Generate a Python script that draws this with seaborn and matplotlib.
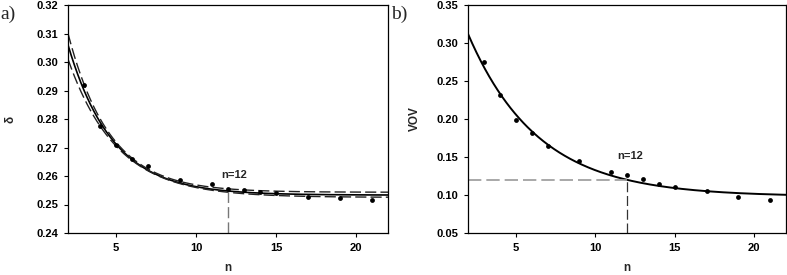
import numpy as np
import pandas as pd
import matplotlib
matplotlib.use("Agg")
import matplotlib.pyplot as plt
from matplotlib import font_manager as fm
import seaborn as sns

# ---- data ----
n_pts = [3, 4, 5, 6, 7, 9, 11, 12, 13, 14, 15, 17, 19, 21]
delta_pts = [0.2920, 0.2776, 0.2710, 0.2659, 0.2634, 0.2587, 0.2573, 0.2555,
             0.2552, 0.2543, 0.2540, 0.2526, 0.2523, 0.2516]
vov_pts = [0.275, 0.231, 0.199, 0.181, 0.165, 0.145, 0.130, 0.126,
           0.1205, 0.1144, 0.111, 0.105, 0.098, 0.093]

# fitted exponential-decay curves: y = c + a*exp(-b*(n-2))
delta_fit = dict(c=0.2533, a=0.0527, b=0.36)
delta_upper = dict(c=0.2543, a=0.0557, b=0.384)
delta_lower = dict(c=0.2525, a=0.0485, b=0.330)
vov_fit = dict(c=0.098, a=0.214, b=0.2275)

n_cut = 12
vov_cut = 0.120
delta_cut = 0.2547

x_ticks = [5, 10, 15, 20]
delta_ticks = [0.24, 0.25, 0.26, 0.27, 0.28, 0.29, 0.30, 0.31, 0.32]
vov_ticks = [0.05, 0.10, 0.15, 0.20, 0.25, 0.30, 0.35]


def curve(p, n):
    return p["c"] + p["a"] * np.exp(-p["b"] * (n - 2))


sns.set_style("ticks")
plt.rcParams["font.family"] = ["Liberation Sans", "DejaVu Sans"]

bold_path = fm.findfont(fm.FontProperties(family="Liberation Sans", weight="bold"))
fp_tick = fm.FontProperties(fname=bold_path, size=8)
fp_lab = fm.FontProperties(fname=bold_path, size=8.5)
fp_ann = fm.FontProperties(fname=bold_path, size=8)
fp_panel = fm.FontProperties(family="Liberation Serif", size=14)

fig = plt.figure(figsize=(7.87, 2.75), dpi=100)
axA = fig.add_axes([68 / 787, 42 / 275, 320 / 787, 228 / 275])
axB = fig.add_axes([468 / 787, 42 / 275, 318 / 787, 228 / 275])

ngrid = np.linspace(2, 22, 300)
dfp = pd.DataFrame({"n": n_pts, "delta": delta_pts, "vov": vov_pts})

# ---- panel a ----
sns.lineplot(x=ngrid, y=curve(delta_fit, ngrid), ax=axA, color="black", lw=1.2)
for p in (delta_upper, delta_lower):
    sns.lineplot(x=ngrid, y=curve(p, ngrid), ax=axA, color="#222222", lw=1.0,
                 linestyle=(0, (8, 3)))
axA.plot([n_cut, n_cut], [0.24, delta_cut], color="#777777", lw=1.0,
         linestyle=(0, (8, 3)))
sns.scatterplot(data=dfp, x="n", y="delta", ax=axA, color="black", s=12,
                edgecolor="black", linewidth=0, zorder=5)
axA.text(12.4, 0.2605, "n=12", fontproperties=fp_ann, ha="center", va="center")
axA.set_xlim(2, 22)
axA.set_ylim(0.24, 0.32)
axA.set_yticks(delta_ticks)
axA.set_yticklabels([f"{v:.2f}" for v in delta_ticks])
axA.set_ylabel("δ", fontproperties=fp_lab, labelpad=14)

# ---- panel b ----
sns.lineplot(x=ngrid, y=curve(vov_fit, ngrid), ax=axB, color="black", lw=1.4)
axB.plot([2, n_cut], [vov_cut, vov_cut], color="#999999", lw=1.2,
         linestyle=(0, (8, 3)))
axB.plot([n_cut, n_cut], [0.05, vov_cut], color="#333333", lw=0.9,
         linestyle=(0, (8, 3)))
sns.scatterplot(data=dfp, x="n", y="vov", ax=axB, color="black", s=12,
                edgecolor="black", linewidth=0, zorder=5)
axB.text(12.2, 0.151, "n=12", fontproperties=fp_ann, ha="center", va="center")
axB.set_xlim(2, 22)
axB.set_ylim(0.05, 0.35)
axB.set_yticks(vov_ticks)
axB.set_yticklabels([f"{v:.2f}" for v in vov_ticks])
axB.set_ylabel("VOV", fontproperties=fp_lab, labelpad=11)

for ax in (axA, axB):
    ax.set_xticks(x_ticks)
    ax.set_xlabel("n", fontproperties=fp_lab, labelpad=7)
    ax.tick_params(direction="out", length=3, width=0.8, colors="black", pad=4)
    for lab in ax.get_xticklabels() + ax.get_yticklabels():
        lab.set_fontproperties(fp_tick)
    for s in ax.spines.values():
        s.set_visible(True)
        s.set_color("black")
        s.set_linewidth(0.9)

fig.text(0 / 787, 1 - 14 / 275, "a)", fontproperties=fp_panel,
         va="center", ha="left")
fig.text(391 / 787, 1 - 14 / 275, "b)", fontproperties=fp_panel,
         va="center", ha="left")

fig.savefig("out.png", dpi=100)
